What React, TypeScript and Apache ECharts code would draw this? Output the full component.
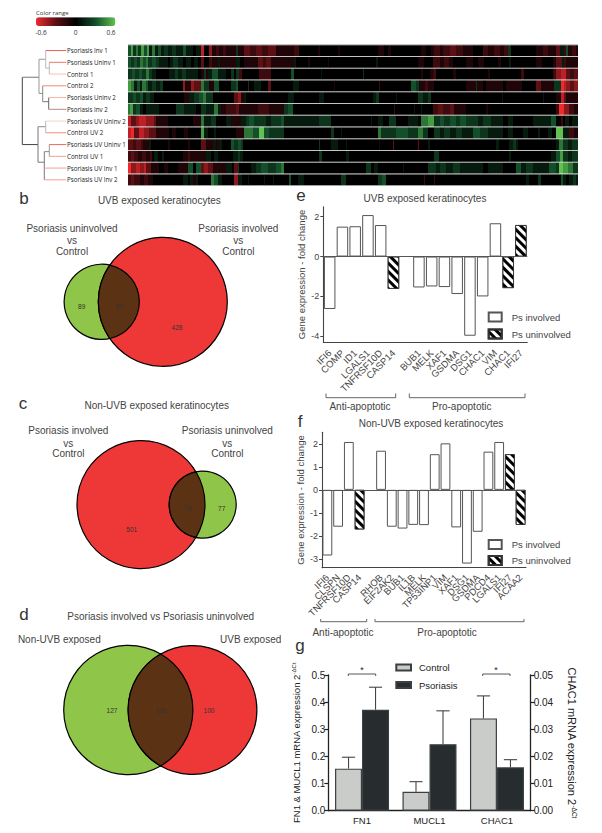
import React, { useEffect, useRef } from "react";
import * as echarts from "echarts";

const FONT = '"Liberation Sans", Arial, sans-serif';
const LABEL_FONT = '"Open Sans", sans-serif';

// Panel a: rows of the expression map. Each row is a flat list of start, value pairs
// (start along the row, value in tenths of the colour range).
const rowNames = [
  "Psoriasis Inv 1", "Psoriasis Uninv 1", "Control 1", "Control 2", "Psoriasis Uninv 2", "Psoriasis Inv 2",
  "Psoriasis UV Uninv 2", "Control UV 2", "Psoriasis UV Uninv 1", "Control UV 1", "Psoriasis UV Inv 1", "Psoriasis UV Inv 2",
];
const rowPsInv1 = [0,3,3,5,5,2,8,4,10,2,13,5,16,3,19,5,21,1,24,4,27,1,30,3,33,1,36,2,40,1,44,2,48,1,55,3,58,1,65,0,68,1,73,-5,76,0,81,-4,84,-1,88,-2,91,-1,95,-2,98,-1,108,2,110,-1,116,-3,122,-2,128,-3,134,-2,140,-3,148,-1,166,-2,171,0,190,-1,192,0,210,-1,212,0,250,-1,256,0,260,-1,263,0,293,-1,298,0,303,-1,306,-2,312,-1,315,-2,322,-3,328,-2,335,-1,345,0,355,-2,360,-1,366,-2,372,-1,376,-2,380,2,383,0,408,-1,415,-2,420,-1,428,-3,432,1,436,-2,438,3,440,-1,444,-2,448,-1];
const rowPsUninv1 = [0,3,3,2,6,3,9,2,12,4,15,3,18,4,20,2,24,3,28,2,31,1,40,0,42,1,45,2,50,1,55,0,58,1,63,0,66,1,70,0,73,-3,76,0,81,-2,84,-1,90,1,92,-1,108,1,112,0,116,-1,130,-3,135,-2,138,-3,143,-1,166,1,168,0,180,-1,182,0,200,-1,201,0,248,1,250,0,290,-1,296,0,305,-2,312,-1,316,-2,321,-1,325,0,338,-1,345,0,350,-1,356,0,370,-1,373,0,381,1,383,0,408,-1,414,0,425,-1,428,-3,434,1,436,-2,438,-1];
const rowControl1 = [0,2,4,3,7,2,11,3,14,2,18,4,21,2,24,1,28,0,41,1,47,2,50,1,54,2,58,1,70,0,73,-1,76,2,78,-1,80,1,84,3,90,1,98,0,103,2,106,0,108,2,111,-2,114,0,131,-2,143,0,163,3,166,0,193,1,194,0,235,2,236,0,293,-1,295,0,302,-1,305,-2,308,0,325,-1,328,0,360,-1,362,0,393,-2,396,0,425,-2,428,-4,433,-5,438,-3,442,-2,446,-3];
const rowControl2 = [0,5,3,4,6,1,9,3,12,1,14,4,18,3,20,1,24,2,28,1,32,2,35,0,55,-4,57,-1,63,-4,66,-3,73,4,76,2,81,-1,86,3,91,0,103,2,108,3,110,0,120,2,121,0,126,1,133,0,140,-3,143,0,165,1,171,0,206,-1,207,0,251,-2,252,0,283,3,288,2,291,-1,297,-2,300,-1,306,0,338,-1,348,2,349,-1,355,0,358,-1,375,0,378,-1,394,0,408,-3,413,-1,426,2,433,-6,436,-5,438,-4,442,-3,446,-4];
const rowPsUninv2 = [0,2,5,3,8,2,12,3,15,1,18,2,22,1,26,0,56,-1,61,1,66,2,71,3,75,4,78,2,85,0,106,-3,110,-4,113,-1,116,1,118,0,160,1,166,0,191,1,196,0,245,1,248,2,251,0,268,1,269,0,290,2,295,1,300,2,303,0,374,1,375,0,415,1,416,0,428,-1,433,-5,436,-3,438,-1];
const rowPsInv2 = [0,4,2,5,5,2,8,3,12,1,15,0,18,1,31,0,48,2,56,1,68,0,73,2,78,1,86,4,90,1,93,-1,98,-2,108,-3,111,-1,130,-2,141,-1,156,2,160,3,165,0,266,-2,267,0,286,1,287,0,293,1,294,0,305,-2,310,-3,315,-2,322,-3,326,-1,338,0,358,-1,360,0,428,-2,431,-6,436,-4,441,-2,446,-1];
const rowUvUninv2 = [0,-5,3,-3,8,-4,11,-5,18,-4,26,-3,28,-1,40,0,65,-1,73,4,76,1,83,2,88,0,98,1,103,-1,113,1,118,2,121,3,126,2,138,1,143,2,153,3,156,1,191,2,203,0,243,1,244,0,250,1,255,0,261,2,268,0,280,1,290,0,293,4,300,5,306,2,312,3,316,2,322,3,328,2,332,3,338,2,350,1,355,2,363,1,375,0,380,1,385,0,405,1,423,3,428,0,433,-2,435,0,437,1,441,0,444,1];
const rowControlUv2 = [0,-5,3,-6,6,-3,11,-5,16,-4,21,-3,28,-1,41,0,44,-1,48,0,56,-1,60,0,73,5,76,1,80,0,86,1,88,0,108,-1,116,4,125,3,131,6,136,3,141,2,156,0,203,2,206,0,213,1,214,0,250,4,253,2,268,3,280,2,290,4,295,2,300,0,306,2,312,1,316,2,322,1,328,2,334,1,345,3,352,2,360,1,375,0,380,1,385,0,395,1,400,0,410,1,412,0,420,1,424,0,428,6,435,1,441,-2,446,-1];
const rowUvUninv1 = [0,-3,5,-2,8,-3,13,-2,15,-1,21,1,23,0,40,-1,42,0,60,-1,62,0,73,-3,78,-1,85,1,88,-1,91,1,94,0,103,3,106,2,110,3,113,2,115,0,191,2,192,0,203,1,210,0,218,1,219,0,251,-1,252,0,265,-3,266,0,290,-3,291,0,300,1,302,0,368,1,371,0,381,1,385,2,388,1,390,0,428,1,431,4,435,2,440,1,444,2];
const rowControlUv1 = [0,-2,3,-3,6,-2,10,-1,14,-2,18,-1,22,-2,24,0,26,1,30,0,34,1,36,0,55,-1,60,-2,62,-1,78,1,83,0,86,1,90,0,105,1,110,2,112,1,115,0,191,2,194,0,218,1,221,0,306,2,311,0,381,1,383,0,423,1,428,3,432,5,435,2,440,1,444,2];
const rowUvInv1 = [0,-6,3,-4,8,-5,12,-4,16,-5,18,-3,23,-1,31,0,36,-1,40,0,50,-1,60,3,65,0,68,3,73,-3,76,-4,80,-3,85,-1,98,1,104,0,106,-3,110,2,111,0,123,1,128,2,133,3,140,2,148,3,153,4,156,0,238,2,243,0,246,1,250,0,275,1,276,0,300,2,308,1,312,2,318,1,325,2,332,1,355,0,360,1,375,0,388,3,393,1,398,2,405,1,421,3,428,2,431,6,435,5,440,4,445,2];
const rowUvInv2 = [0,-2,3,-3,6,-2,12,-1,16,-2,20,-1,25,0,55,1,60,0,62,1,65,-1,68,1,70,0,83,4,86,3,90,1,94,0,106,-4,110,1,114,0,120,1,121,0,136,1,137,0,145,1,146,0,161,3,163,0,170,1,176,0,213,2,218,0,250,2,254,3,258,0,296,-2,297,0,306,-2,307,0,398,1,401,0,410,2,413,0,433,3,435,1,438,0,441,1,445,2,448,1];
const heatRows = [rowPsInv1, rowPsUninv1, rowControl1, rowControl2, rowPsUninv2, rowPsInv2, rowUvUninv2, rowControlUv2, rowUvUninv1, rowControlUv1, rowUvInv1, rowUvInv2];
const heatLength = 450;

// Dendrogram: merge distance and row for both ends of each branch, then colour.
const dendroBranches: [number, number, number, number, string][] = [
  [0, 2.27, 0, 8, "#444"],
  [0, 2.27, 16.7, 2.27, "#777"],
  [16.7, 0.74, 16.7, 3.64, "#999"],
  [16.7, 0.74, 23.4, 0.74, "#999"],
  [23.4, 0, 23.4, 1.5, "#bbb"],
  [23.4, 0, 44, 0, "#e8604c"],
  [23.4, 1.5, 27, 1.5, "#bbb"],
  [27, 1, 27, 2, "#bbb"],
  [27, 1, 44, 1, "#e8776a"],
  [27, 2, 44, 2, "#f6c4b4"],
  [16.7, 3.64, 20.4, 3.64, "#888"],
  [20.4, 3, 20.4, 4.35, "#888"],
  [20.4, 3, 44, 3, "#ee8a78"],
  [20.4, 4.35, 26.4, 4.35, "#777"],
  [26.4, 4, 26.4, 5, "#666"],
  [26.4, 4, 44, 4, "#f4b5a6"],
  [26.4, 5, 44, 5, "#b98a84"],
  [0, 8, 15.7, 8, "#444"],
  [15.7, 6.48, 15.7, 9.5, "#777"],
  [15.7, 6.48, 23.4, 6.48, "#888"],
  [23.4, 6, 23.4, 7, "#bbb"],
  [23.4, 6, 44, 6, "#fad4c2"],
  [23.4, 7, 44, 7, "#ef8e7e"],
  [15.7, 9.5, 22, 9.5, "#777"],
  [22, 8.6, 22, 11, "#777"],
  [22, 8.6, 27, 8.6, "#888"],
  [27, 8, 27, 9, "#999"],
  [27, 8, 44, 8, "#ec6a58"],
  [27, 9, 44, 9, "#f0a090"],
  [22, 10, 44, 10, "#f2a090"],
  [22, 11, 44, 11, "#f2a090"],
];

// Panels b, c, d: Venn counts
const vennBCounts = ["89", "87", "428"];
const vennCCounts = ["501", "76", "77"];
const vennDCounts = ["127", "100", "100"];

// Panel e
const eGenes = ["IFI6", "COMP", "ID1", "LGALS1", "TNFRSF10D", "CASP14", "", "BUB1", "MELK", "XAF1", "GSDMA", "DSG1", "CHAC1", "VIM", "CHAC1", "IFI27"];
const eInvolved = [-2.63, 1.5, 1.52, 2.08, 1.58, null, null, -1.55, -1.5, -1.53, -1.88, -3.97, -2.0, 1.67, null, null];
const eUninvolved = [null, null, null, null, null, -1.62, null, null, null, null, null, null, null, null, -1.58, 1.58];
const eTicks = [-4, -2, 0, 2];

// Panel f
const fGenes = ["IFI6", "CLSPN", "TNFRSF10D", "CASP14", "", "RHOB", "EIF2AK2", "BUB1", "IL1B", "MELK", "TP53INP1", "VIM", "XAF1", "DSG1", "GSDMA", "PDCD4", "LGALS1", "IFI27", "ACAA2"];
const fInvolved = [-2.85, -1.6, 2.08, null, null, 1.7, -1.6, -1.68, -1.52, -1.53, 1.55, 2.02, -1.63, -3.2, -1.82, 1.66, 2.08, null, null];
const fUninvolved = [null, null, null, -1.72, null, null, null, null, null, null, null, null, null, null, null, null, null, 1.55, -1.52];
const fTicks = [-3, -2, -1, 0, 1, 2];

// Panel g
const gCategories = ["FN1", "MUCL1", "CHAC1"];
const gControlLeft = [0.155, 0.07, null];
const gPsoriasisLeft = [0.372, 0.245, null];
const gControlRight = [null, null, 0.034];
const gPsoriasisRight = [null, null, 0.016];
const gControlErrLeft = [0.197, 0.107, null];
const gPsoriasisErrLeft = [0.455, 0.368, null];
const gControlErrRight = [null, null, 0.0423];
const gPsoriasisErrRight = [null, null, 0.0188];

type C = { x: number; y: number; r: number };
const lensPath = (a: C, b: C) => {
  const d = Math.abs(b.x - a.x);
  const dx = (d * d + a.r * a.r - b.r * b.r) / (2 * d);
  const h = Math.sqrt(a.r * a.r - dx * dx);
  const ix = a.x + Math.sign(b.x - a.x) * dx;
  const leftFirst = a.x < b.x;
  const [l, r] = leftFirst ? [a, b] : [b, a];
  const largeL = ix > r.x ? 1 : 0;
  const largeR = ix < l.x ? 1 : 0;
  return `M${ix} ${a.y - h}A${l.r} ${l.r} 0 ${largeL} 1 ${ix} ${a.y + h}A${r.r} ${r.r} 0 ${largeR} 1 ${ix} ${a.y - h}Z`;
};

const bGreen = { x: 101.7, y: 301.8, r: 37.6 };
const bRed = { x: 162.8, y: 301.8, r: 64.5 };
const cRed = { x: 141, y: 504.6, r: 64 };
const cGreen = { x: 202.7, y: 504.6, r: 33.5 };
const dGreen = { x: 128.3, y: 710, r: 64.6 };
const dRed = { x: 192.5, y: 710, r: 64.4 };

echarts.graphic.registerShape("lensB", echarts.graphic.extendPath(lensPath(bGreen, bRed), {}));
echarts.graphic.registerShape("lensC", echarts.graphic.extendPath(lensPath(cRed, cGreen), {}));
echarts.graphic.registerShape("lensD", echarts.graphic.extendPath(lensPath(dGreen, dRed), {}));

const txt = (text: string, x: number, y: number, size = 10, fill = "#444", align = "center", family = FONT, weight = "normal") => ({
  type: "text", x, y, silent: true, z: 20,
  style: { text, fill, fontSize: size, fontFamily: family, fontWeight: weight, align, verticalAlign: "middle", textAlign: align, textVerticalAlign: "middle" },
});
const circle = (c: C, fill: string) => ({
  type: "circle", shape: { cx: c.x, cy: c.y, r: c.r }, style: { fill, stroke: "#000", lineWidth: 1.2 }, silent: true, z: 10,
});
const lens = (type: string) => ({
  type, x: 0, y: 0, silent: true, z: 11, style: { fill: "#5c3214", stroke: "#000", lineWidth: 1.2 },
});
const bracket = (x1: number, x2: number, y1: number, y2: number, stroke = "#555") => ({
  type: "polyline", silent: true, z: 10,
  shape: { points: [[x1, y1], [x1, y2], [x2, y2], [x2, y1]] },
  style: { fill: "none", stroke, lineWidth: 0.9 },
});

const HATCH = {
  symbol: "rect", symbolSize: 1, dashArrayX: [1, 0], dashArrayY: [3, 3], rotation: Math.PI / 4,
  color: "#000", backgroundColor: "#fff",
};
const INV_STYLE = { color: "#fff", borderColor: "#555", borderWidth: 1 };
const UNINV_STYLE = { color: "#fff", borderColor: "#333", borderWidth: 0.8, decal: HATCH };

const RED = "#ee3838";
const GREEN = "#8fc548";
const VENN_TEXT = "#333";

const geneAxis = (gridIndex: number, data: string[], margin: number) => ({
  type: "category", gridIndex, data,
  axisLine: { onZero: false, lineStyle: { color: "#444", width: 1.1 } },
  axisTick: { show: false },
  axisLabel: { interval: 0, rotate: 45, fontSize: 9.5, color: "#444", fontFamily: FONT, margin },
});
const foldAxis = (gridIndex: number, min: number, max: number, ticks: number[], nameGap: number) => ({
  type: "value", gridIndex, min, max,
  name: "Gene expression - fold change", nameLocation: "middle", nameGap,
  nameTextStyle: { fontSize: 9.5, color: "#444", fontFamily: FONT },
  splitLine: { show: false },
  axisLine: { show: true, lineStyle: { color: "#444", width: 1.1 } },
  axisTick: { show: true, length: 3, customValues: ticks, lineStyle: { color: "#444" } },
  axisLabel: { customValues: ticks, fontSize: 9, color: "#444", fontFamily: FONT, margin: 4 },
});
const foldSeries = (name: string, axisIndex: number, data: (number | null)[], itemStyle: object, zero: boolean) => ({
  type: "bar", name, xAxisIndex: axisIndex, yAxisIndex: axisIndex, data, itemStyle,
  barWidth: axisIndex === 2 ? 11.5 : 9.8, barGap: "-100%",
  markLine: zero ? {
    silent: true, symbol: "none", label: { show: false }, data: [{ yAxis: 0 }],
    lineStyle: { color: "#555", width: 1.1, type: "solid" },
  } : undefined,
});
const errorSeries = (yAxisIndex: number, tops: (number | null)[], bars: (number | null)[], offset: number) => ({
  type: "custom", xAxisIndex: 4, yAxisIndex, z: 5,
  encode: { x: 0, y: 2 },
  data: tops.map((t, i) => [i, bars[i], t]).filter((d) => d[2] != null),
  renderItem: (_: any, api: any) => {
    const top = api.coord([api.value(0), api.value(2)]);
    const base = api.coord([api.value(0), api.value(1)]);
    const x = top[0] + offset;
    const style = { stroke: "#444", lineWidth: 1.1, fill: "none" };
    return {
      type: "group",
      children: [
        { type: "line", shape: { x1: x, y1: base[1], x2: x, y2: top[1] }, style },
        { type: "line", shape: { x1: x - 6.6, y1: top[1], x2: x + 6.6, y2: top[1] }, style },
      ],
    };
  },
});
const gBar = (name: string, yAxisIndex: number, data: (number | null)[], color: string, stack: string) => ({
  type: "bar", name, xAxisIndex: 4, yAxisIndex, data, stack, barWidth: 27, barGap: 0,
  itemStyle: { color, borderColor: "#3a3f42", borderWidth: 1.2 },
});

const makeOption = () => ({
  animation: false,
  backgroundColor: "#fff",
  textStyle: { fontFamily: FONT },
  visualMap: {
    type: "continuous", seriesIndex: 0, dimension: 3, min: -6, max: 6,
    orient: "horizontal", left: 36, top: 17.3, itemWidth: 8.7, itemHeight: 79.3, padding: 0,
    calculable: false, realtime: false, showLabel: false, text: ["", ""],
    inRange: { color: ["#ee2a2d", "#5c1014", "#000000", "#124f2a", "#62c250"] },
    textStyle: { fontSize: 1 },
  },
  legend: [
    { data: ["Ps involved", "Ps uninvolved"], icon: "rect", left: 487.7, top: 311.5, orient: "vertical", itemWidth: 13, itemHeight: 9, itemGap: 6, padding: 0, selectedMode: false, textStyle: { fontSize: 9.5, color: "#444", padding: [0, 0, 0, 5] } },
    { data: ["Ps involved", "Ps uninvolved"], icon: "rect", left: 487.7, top: 539, orient: "vertical", itemWidth: 13, itemHeight: 9, itemGap: 5, padding: 0, selectedMode: false, textStyle: { fontSize: 9.5, color: "#444", padding: [0, 0, 0, 5] } },
    { data: ["Control", "Psoriasis"], icon: "rect", left: 395.3, top: 662.5, orient: "vertical", itemWidth: 14.7, itemHeight: 6, itemGap: 7.5, padding: 0, selectedMode: false, textStyle: { fontSize: 9.5, color: "#222", padding: [0, 0, 0, 3] } },
  ],
  grid: [
    { left: 128, top: 44.7, width: 450, height: 141, outerBoundsMode: "none" },
    { left: 22.3, top: 44.7, width: 45, height: 141, outerBoundsMode: "none" },
    { left: 323.3, top: 206.7, width: 204, height: 135.6, outerBoundsMode: "none" },
    { left: 322, top: 432.3, width: 204, height: 135.4, outerBoundsMode: "none" },
    { left: 328.3, top: 675, width: 202.4, height: 135.7, outerBoundsMode: "none" },
  ],
  xAxis: [
    { type: "value", gridIndex: 0, min: 0, max: heatLength, show: false },
    { type: "value", gridIndex: 1, min: 0, max: 45, show: false },
    geneAxis(2, eGenes, 9),
    geneAxis(3, fGenes, 8),
    {
      type: "category", gridIndex: 4, data: gCategories,
      axisLine: { lineStyle: { color: "#222", width: 1.3 } }, axisTick: { show: false },
      axisLabel: { fontSize: 9.5, color: "#222", fontFamily: FONT, margin: 5 },
    },
  ],
  yAxis: [
    {
      type: "category", gridIndex: 0, data: rowNames, inverse: true,
      axisLine: { show: false }, axisTick: { show: false },
      axisLabel: { show: true, interval: 0, align: "left", margin: 61, fontSize: 6.2, color: "#222", fontFamily: LABEL_FONT, fontWeight: 500 },
      splitLine: { show: true, interval: 0, lineStyle: { color: "#c4c4c4", width: 1 } },
    },
    { type: "value", gridIndex: 1, min: -0.5, max: 11.5, inverse: true, show: false },
    foldAxis(2, -4.3, 2.5, eTicks, 17),
    foldAxis(3, -3.38, 2.5, fTicks, 17),
    {
      type: "value", gridIndex: 4, min: 0, max: 0.5, interval: 0.1, position: "left",
      name: "{a|FN1 & MUCL1 mRNA expression 2}{s|-ΔCt}", nameLocation: "middle", nameGap: 27,
      nameTextStyle: { rich: { a: { fontSize: 9.5, color: "#222", fontFamily: FONT }, s: { fontSize: 6, color: "#222", fontFamily: FONT, verticalAlign: "top" } } },
      splitLine: { show: false },
      axisLine: { show: true, lineStyle: { color: "#222", width: 1.3 } },
      axisTick: { show: true, length: 4, lineStyle: { color: "#222", width: 1.2 } },
      axisLabel: { fontSize: 10, color: "#222", fontFamily: FONT, margin: 3, formatter: (v: number) => v.toFixed(1) },
    },
    {
      type: "value", gridIndex: 4, min: 0, max: 0.05, interval: 0.01, position: "right",
      name: "{a|CHAC1 mRNA expression 2}{s|-ΔCt}", nameLocation: "middle", nameGap: 36, nameRotate: -90,
      nameTextStyle: { rich: { a: { fontSize: 11, color: "#222", fontFamily: FONT }, s: { fontSize: 6.5, color: "#222", fontFamily: FONT, verticalAlign: "top" } } },
      splitLine: { show: false },
      axisLine: { show: true, lineStyle: { color: "#222", width: 1.3 } },
      axisTick: { show: true, length: 4, lineStyle: { color: "#222", width: 1.2 } },
      axisLabel: { fontSize: 10, color: "#222", fontFamily: FONT, margin: 3, formatter: (v: number) => v.toFixed(2) },
    },
  ],
  series: [
    {
      type: "custom", xAxisIndex: 0, yAxisIndex: 0, clip: true,
      encode: { x: [0, 2], y: 1 },
      dimensions: ["start", "row", "end", "value"],
      data: heatRows.flatMap((row, r) => {
        const out: number[][] = [];
        for (let i = 0; i < row.length; i += 2) {
          out.push([row[i], r, i + 2 < row.length ? row[i + 2] : heatLength, row[i + 1]]);
        }
        return out;
      }),
      renderItem: (_: any, api: any) => {
        const s = api.coord([api.value(0), api.value(1)]);
        const e = api.coord([api.value(2), api.value(1)]);
        const h = api.size([0, 1])[1];
        return {
          type: "rect",
          shape: { x: s[0], y: s[1] - h / 2 + 0.5, width: e[0] - s[0] + 0.25, height: h - 1 },
          style: { fill: api.visual("color") },
        };
      },
    },
    {
      type: "custom", xAxisIndex: 1, yAxisIndex: 1,
      encode: { x: [0, 2], y: [1, 3] },
      data: dendroBranches.map((b, i) => [b[0], b[1], b[2], b[3], i]),
      renderItem: (_: any, api: any) => {
        const a = api.coord([api.value(0), api.value(1)]);
        const b = api.coord([api.value(2), api.value(3)]);
        return {
          type: "line",
          shape: { x1: a[0], y1: a[1], x2: b[0], y2: b[1] },
          style: { stroke: dendroBranches[api.value(4)][4], lineWidth: 1, fill: "none" },
        };
      },
    },
    foldSeries("Ps involved", 2, eInvolved, INV_STYLE, true),
    foldSeries("Ps uninvolved", 2, eUninvolved, UNINV_STYLE, false),
    foldSeries("Ps involved", 3, fInvolved, INV_STYLE, true),
    foldSeries("Ps uninvolved", 3, fUninvolved, UNINV_STYLE, false),
    gBar("Control", 4, gControlLeft, "#c9ccc9", "control"),
    gBar("Psoriasis", 4, gPsoriasisLeft, "#272c2e", "psoriasis"),
    gBar("Control", 5, gControlRight, "#c9ccc9", "control"),
    gBar("Psoriasis", 5, gPsoriasisRight, "#272c2e", "psoriasis"),
    errorSeries(4, gControlErrLeft, gControlLeft, -13.5),
    errorSeries(4, gPsoriasisErrLeft, gPsoriasisLeft, 13.5),
    errorSeries(5, gControlErrRight, gControlRight, -13.5),
    errorSeries(5, gPsoriasisErrRight, gPsoriasisRight, 13.5),
  ],
  graphic: [
    // colour range
    txt("Color range", 36, 12.6, 6, "#333", "left", LABEL_FONT),
    txt("-0.6", 41, 32, 6.5, "#333", "center", LABEL_FONT),
    txt("0", 75.7, 32, 6.5, "#333", "center", LABEL_FONT),
    txt("0.6", 111, 32, 6.5, "#333", "center", LABEL_FONT),
    // panel letters
    txt("b", 24, 198.5, 17, "#333"),
    txt("c", 23, 403, 17, "#333"),
    txt("d", 24, 614.5, 17, "#333"),
    txt("e", 301, 195.5, 17, "#333"),
    txt("f", 300, 421, 17, "#333"),
    txt("g", 300, 645.5, 17, "#333"),
    // venn b
    txt("UVB exposed keratinocytes", 159.3, 200.7),
    txt("Psoriasis uninvolved", 72, 228.7), txt("vs", 72, 240), txt("Control", 72, 251.3),
    txt("Psoriasis involved", 238.3, 228.7), txt("vs", 238.3, 240), txt("Control", 238.3, 251.3),
    circle(bGreen, GREEN), circle(bRed, RED), lens("lensB"),
    txt(vennBCounts[0], 81.7, 306.7, 6.5, VENN_TEXT), txt(vennBCounts[1], 119.3, 306.7, 6.5, VENN_TEXT), txt(vennBCounts[2], 177, 327, 6.5, VENN_TEXT),
    // venn c
    txt("Non-UVB exposed keratinocytes", 156.7, 405),
    txt("Psoriasis involved", 68.3, 430.7), txt("vs", 68.3, 443), txt("Control", 68.3, 453.3),
    txt("Psoriasis uninvolved", 227.3, 430.7), txt("vs", 227.3, 443), txt("Control", 227.3, 453.3),
    circle(cRed, RED), circle(cGreen, GREEN), lens("lensC"),
    txt(vennCCounts[0], 131.7, 529.7, 6.5, VENN_TEXT), txt(vennCCounts[1], 188.3, 508.7, 6.5, VENN_TEXT), txt(vennCCounts[2], 221.7, 508.7, 6.5, VENN_TEXT),
    // venn d
    txt("Psoriasis involved vs Psoriasis uninvolved", 160.7, 616.7),
    txt("Non-UVB exposed", 59.3, 639.3), txt("UVB exposed", 250.7, 639.3),
    circle(dGreen, GREEN), circle(dRed, RED), lens("lensD"),
    txt(vennDCounts[0], 112, 710.3, 6.5, VENN_TEXT), txt(vennDCounts[1], 161, 710.3, 6.5, VENN_TEXT), txt(vennDCounts[2], 209, 710.3, 6.5, VENN_TEXT),
    // panel e and f titles and groups
    txt("UVB exposed keratinocytes", 425, 198),
    txt("Non-UVB exposed keratinocytes", 431, 423.7),
    bracket(326, 395.7, 393.5, 397.7),
    bracket(409.3, 525, 393.5, 397.7),
    txt("Anti-apoptotic", 360, 406),
    txt("Pro-apoptotic", 461.7, 406),
    bracket(320.7, 366.7, 619, 621.7),
    bracket(375, 524, 619, 621.7),
    txt("Anti-apoptotic", 343, 632.3),
    txt("Pro-apoptotic", 447, 632.3),
    // significance
    bracket(348.3, 375.7, 676, 674, "#444"),
    bracket(482.7, 510, 676, 674, "#444"),
    txt("*", 362, 670, 9, "#222"),
    txt("*", 496, 670, 9, "#222"),
  ],
});

export default function App() {
  const ref = useRef<HTMLDivElement>(null);
  useEffect(() => {
    document.body.style.margin = "0";
    const chart = echarts.init(ref.current!, undefined, { renderer: "svg", width: 602, height: 833 });
    chart.setOption(makeOption() as any);
    return () => chart.dispose();
  }, []);
  return <div ref={ref} style={{ width: 602, height: 833, position: "absolute", left: 0, top: 0 }} />;
}
